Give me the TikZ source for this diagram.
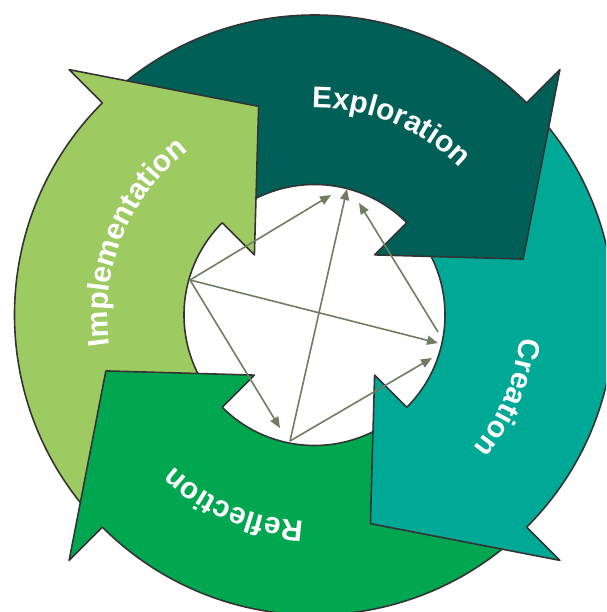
\documentclass[tikz,border=0pt]{standalone}
\usepackage{fontspec}
\setsansfont{Liberation Sans}
\usepackage{tikz}
\usetikzlibrary{decorations.text}
\usetikzlibrary{arrows.meta}
\definecolor{ImplGreen}{RGB}{158,202,98}
\definecolor{ExplTeal}{RGB}{0,95,87}
\definecolor{CreaTeal}{RGB}{0,168,150}
\definecolor{ReflGreen}{RGB}{0,166,80}
\definecolor{LinkGray}{RGB}{112,124,98}
\newcommand{\wordfont}{\sffamily\bfseries\fontsize{17}{20}\selectfont}

\begin{document}
\begin{tikzpicture}[x=0.02cm, y=0.02cm,
  rim/.style={draw=black!80, line width=0.9pt, line join=round},
  link/.style={draw=LinkGray, line width=0.9pt, -{Triangle[length=0.22cm, width=0.18cm]}},
  word/.style={decorate, decoration={text along path, text align=center, text color=white}}]
\clip (-314.5,-297) rectangle (291.5,315);
\fill[white] (-314.5,-297) rectangle (291.5,315);
\fill[ImplGreen] (220:300) arc[start angle=220, end angle=130, radius=300] -- (130:130.5) arc[start angle=130, end angle=220, radius=130.5] -- cycle;
\fill[ExplTeal] (130:300) arc[start angle=130, end angle=40, radius=300] -- (40:130.5) arc[start angle=40, end angle=130, radius=130.5] -- cycle;
\fill[CreaTeal] (40:300) arc[start angle=40, end angle=-50, radius=300] -- (-50:130.5) arc[start angle=-50, end angle=40, radius=130.5] -- cycle;
\fill[ReflGreen] (-50:300) arc[start angle=-50, end angle=-140, radius=300] -- (-140:130.5) arc[start angle=-140, end angle=-50, radius=130.5] -- cycle;
\draw[rim] (225:300) arc[start angle=225, end angle=-135, radius=300];
\draw[rim] (225:130.5) arc[start angle=225, end angle=-135, radius=130.5];
\fill[ImplGreen] (135:347) -- (105:216) -- (135:85) -- cycle;
\draw[rim] (135:300) -- (135:347) -- (105:216) -- (135:85) -- (135:130.5);
\fill[ExplTeal] (45:347) -- (15:216) -- (45:85) -- cycle;
\draw[rim] (45:300) -- (45:347) -- (15:216) -- (45:85) -- (45:130.5);
\fill[CreaTeal] (-45:347) -- (-75:216) -- (-45:85) -- cycle;
\draw[rim] (-45:300) -- (-45:347) -- (-75:216) -- (-45:85) -- (-45:130.5);
\fill[ReflGreen] (-135:347) -- (-165:216) -- (-135:85) -- cycle;
\draw[rim] (-135:300) -- (-135:347) -- (-165:216) -- (-135:85) -- (-135:130.5);
\path[word, decoration={text={|\wordfont|Exploration}}] (128:207) arc[start angle=128, end angle=8, radius=207];
\path[word, decoration={text={|\wordfont|Creation}}] (37:207) arc[start angle=37, end angle=-83, radius=207];
\path[word, decoration={text={|\wordfont|Reflection}}] (-53:207) arc[start angle=-53, end angle=-173, radius=207];
\path[word, decoration={text={|\wordfont|Implementation}}] (218:207) arc[start angle=218, end angle=98, radius=207];
\coordinate (IL) at (-124.5,35);
\coordinate (IB) at (-24.5,-126);
\coordinate (IR) at (123.5,-17);
\coordinate (IT1) at (16.5,120);
\coordinate (IT2) at (32.5,126);
\coordinate (IT3) at (44.5,112);
\coordinate (IR1) at (123.5,-28);
\coordinate (IR2) at (117.5,-43);
\coordinate (IB1) at (-34.5,-113);
\draw[link] (IL) -- (IT1);
\draw[link] (IL) -- (IR1);
\draw[link] (IL) -- (IB1);
\draw[link] (IB) -- (IT2);
\draw[link] (IB) -- (IR2);
\draw[link] (IR) -- (IT3);
\end{tikzpicture}
\end{document}
